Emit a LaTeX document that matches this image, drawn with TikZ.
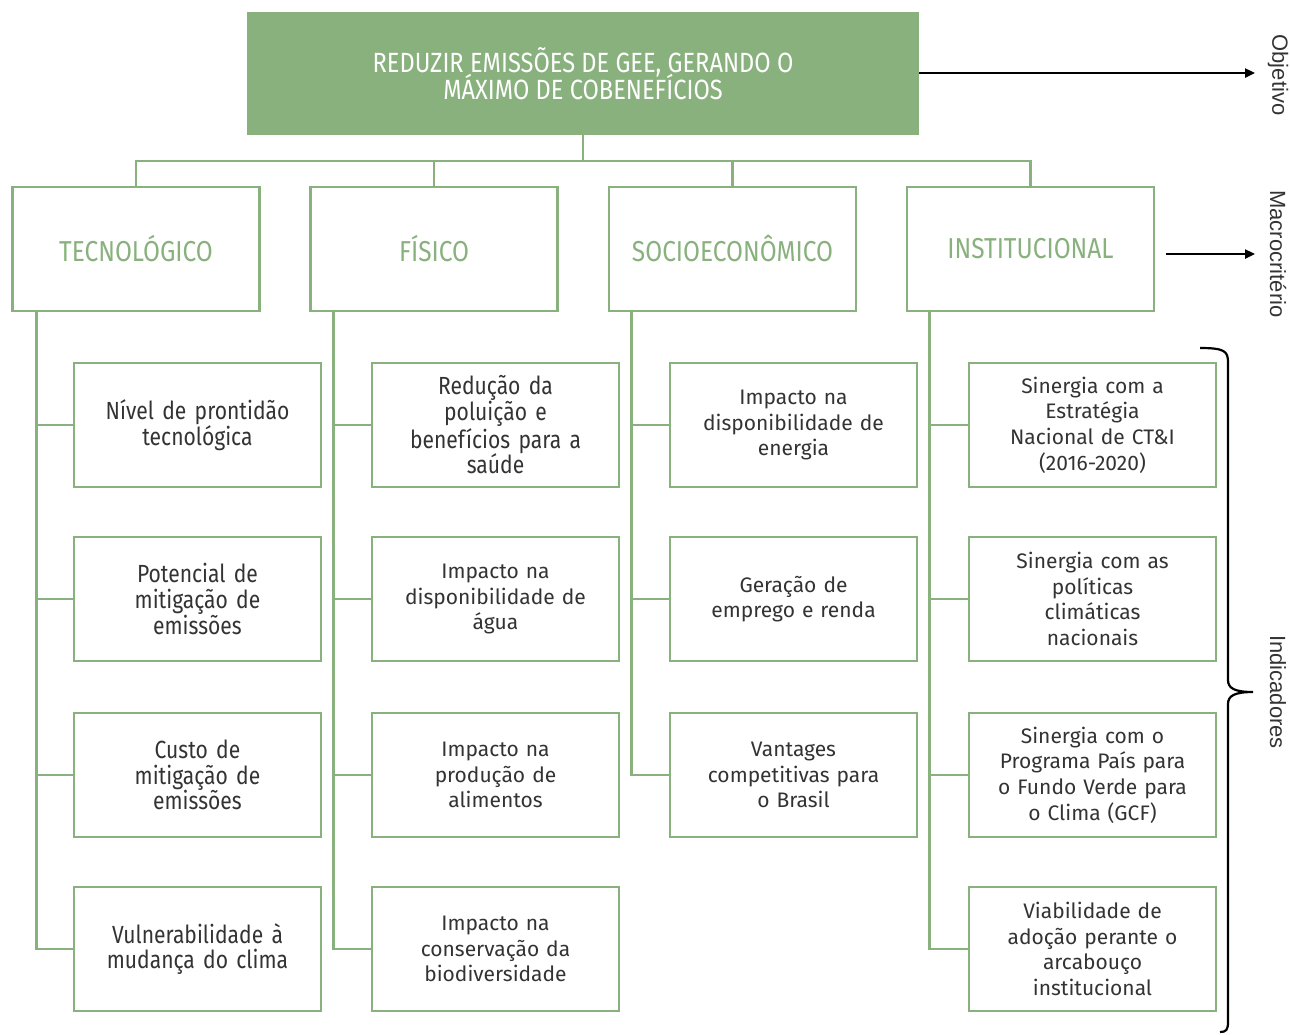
\documentclass[tikz,border=0pt]{standalone}
\usepackage{fontspec}
\setmainfont{Fira Sans}
\newfontfamily\narrowfont{Fira Sans}[FakeStretch=0.85]
\newfontfamily\sidefont{Liberation Sans}
\usetikzlibrary{arrows.meta}
\definecolor{leaf}{HTML}{89B17D}
\definecolor{ink}{HTML}{333333}
\tikzset{
  goalbox/.style={fill=leaf, draw=none, minimum width=336pt, minimum height=61.5pt,
    text=white, align=center,
    font=\narrowfont\fontsize{13.9}{13.6}\selectfont,
    execute at begin node=\setlength{\lineskiplimit}{-100pt}},
  macrobox/.style={draw=leaf, line width=1.4pt, fill=white, minimum width=123.5pt,
    minimum height=62pt, text=leaf, font=\narrowfont\fontsize{14.4}{15}\selectfont},
  leafbox/.style={draw=leaf, line width=1.4pt, fill=white, minimum width=123.5pt,
    minimum height=62pt, text=ink, align=center, text width=115pt,
    font=\fontsize{10.5}{12.8}\selectfont},
  narrowleaf/.style={leafbox, font=\narrowfont\fontsize{12.4}{12.8}\selectfont},
  link/.style={draw=leaf, line width=1.4pt},
  pointer/.style={draw=black, line width=1.15pt, -{Triangle[length=5pt,width=4.5pt]}},
  sidelabel/.style={rotate=-90, text=ink, font=\sidefont\fontsize{11}{13}\selectfont}
}
\begin{document}
\begin{tikzpicture}[x=0.5pt,y=-0.5pt]
\useasboundingbox (0,0) rectangle (1290,1034);

% objective
\node[goalbox] (goal) at (583,73.5) {REDUZIR EMISSÕES DE GEE, GERANDO O\\MÁXIMO DE COBENEFÍCIOS};

% macro criteria
\node[macrobox] (tec)  at (136,249)   {TECNOLÓGICO};
\node[macrobox] (fis)  at (434,249)   {FÍSICO};
\node[macrobox] (soc)  at (732.5,249) {SOCIOECONÔMICO};
\node[macrobox] (inst) at (1030.5,249){INSTITUCIONAL};

% indicators: technological
\node[narrowleaf] (t1) at (197.5,425) {Nível de prontidão\\tecnológica};
\node[narrowleaf] (t2) at (197.5,599) {Potencial de\\mitigação de\\emissões};
\node[narrowleaf] (t3) at (197.5,775) {Custo de\\mitigação de\\emissões};
\node[narrowleaf] (t4) at (197.5,949) {Vulnerabilidade à\\mudança do clima};

% indicators: physical
\node[narrowleaf] (f1) at (495.5,425) {Redução da\\poluição e\\benefícios para a\\saúde};
\node[leafbox] (f2) at (495.5,599) {Impacto na\\disponibilidade de\\água};
\node[leafbox] (f3) at (495.5,775) {Impacto na\\produção de\\alimentos};
\node[leafbox] (f4) at (495.5,949) {Impacto na\\conservação da\\biodiversidade};

% indicators: socioeconomic
\node[leafbox] (s1) at (793.5,425) {Impacto na\\disponibilidade de\\energia};
\node[leafbox] (s2) at (793.5,599) {Geração de\\emprego e renda};
\node[leafbox] (s3) at (793.5,775) {Vantages\\competitivas para\\o Brasil};

% indicators: institutional
\node[leafbox] (i1) at (1092.5,425) {Sinergia com a\\Estratégia\\Nacional de CT\&I\\(2016-2020)};
\node[leafbox] (i2) at (1092.5,599) {Sinergia com as\\políticas\\climáticas\\nacionais};
\node[leafbox] (i3) at (1092.5,775) {Sinergia com o\\Programa País para\\o Fundo Verde para\\o Clima (GCF)};
\node[leafbox] (i4) at (1092.5,949) {Viabilidade de\\adoção perante o\\arcabouço\\institucional};

% tree from the objective to the macro criteria
\coordinate (bus) at (583,161);
\draw[link] (goal.south) -- (bus);
\draw[link] (tec.north) -- (tec.north |- bus) -- (inst.north |- bus) -- (inst.north);
\draw[link] (fis.north) -- (fis.north |- bus);
\draw[link] (soc.north) -- (soc.north |- bus);

% spines from each macro criterion to its indicators
\coordinate (tsp) at ([xshift=12.5pt]tec.south west);
\coordinate (fsp) at ([xshift=12pt]fis.south west);
\coordinate (ssp) at ([xshift=12pt]soc.south west);
\coordinate (isp) at ([xshift=12pt]inst.south west);
\draw[link] (tsp) |- (t4.west);
\draw[link] (fsp) |- (f4.west);
\draw[link] (ssp) |- (s3.west);
\draw[link] (isp) |- (i4.west);
\foreach \n in {t1,t2,t3} \draw[link] (\n.west) -- (\n.west -| tsp);
\foreach \n in {f1,f2,f3} \draw[link] (\n.west) -- (\n.west -| fsp);
\foreach \n in {s1,s2} \draw[link] (\n.west) -- (\n.west -| ssp);
\foreach \n in {i1,i2,i3} \draw[link] (\n.west) -- (\n.west -| isp);

% level labels on the right
\node[sidelabel] (lobj)   at (1278,75)  {Objetivo};
\node[sidelabel] (lmacro) at (1278,254) {Macrocritério};
\node[sidelabel] (lind)   at (1278,692) {Indicadores};
\coordinate (objtip) at (1255,73);
\coordinate (macrotip) at (1255,254);
\draw[pointer] (goal.east |- objtip) -- (objtip);
\draw[pointer] ([xshift=5.5pt]inst.east |- macrotip) -- (macrotip);

% brace grouping the indicators
\draw[line width=1.1pt] (1200,348) .. controls (1224,348) and (1228,351) .. (1228,362)
  -- (1228,680) .. controls (1228,688) and (1234,692) .. (1253,692)
  .. controls (1234,692) and (1228,696) .. (1228,704)
  -- (1228,1022) .. controls (1228,1030) and (1226,1032) .. (1220,1032);
\end{tikzpicture}
\end{document}
